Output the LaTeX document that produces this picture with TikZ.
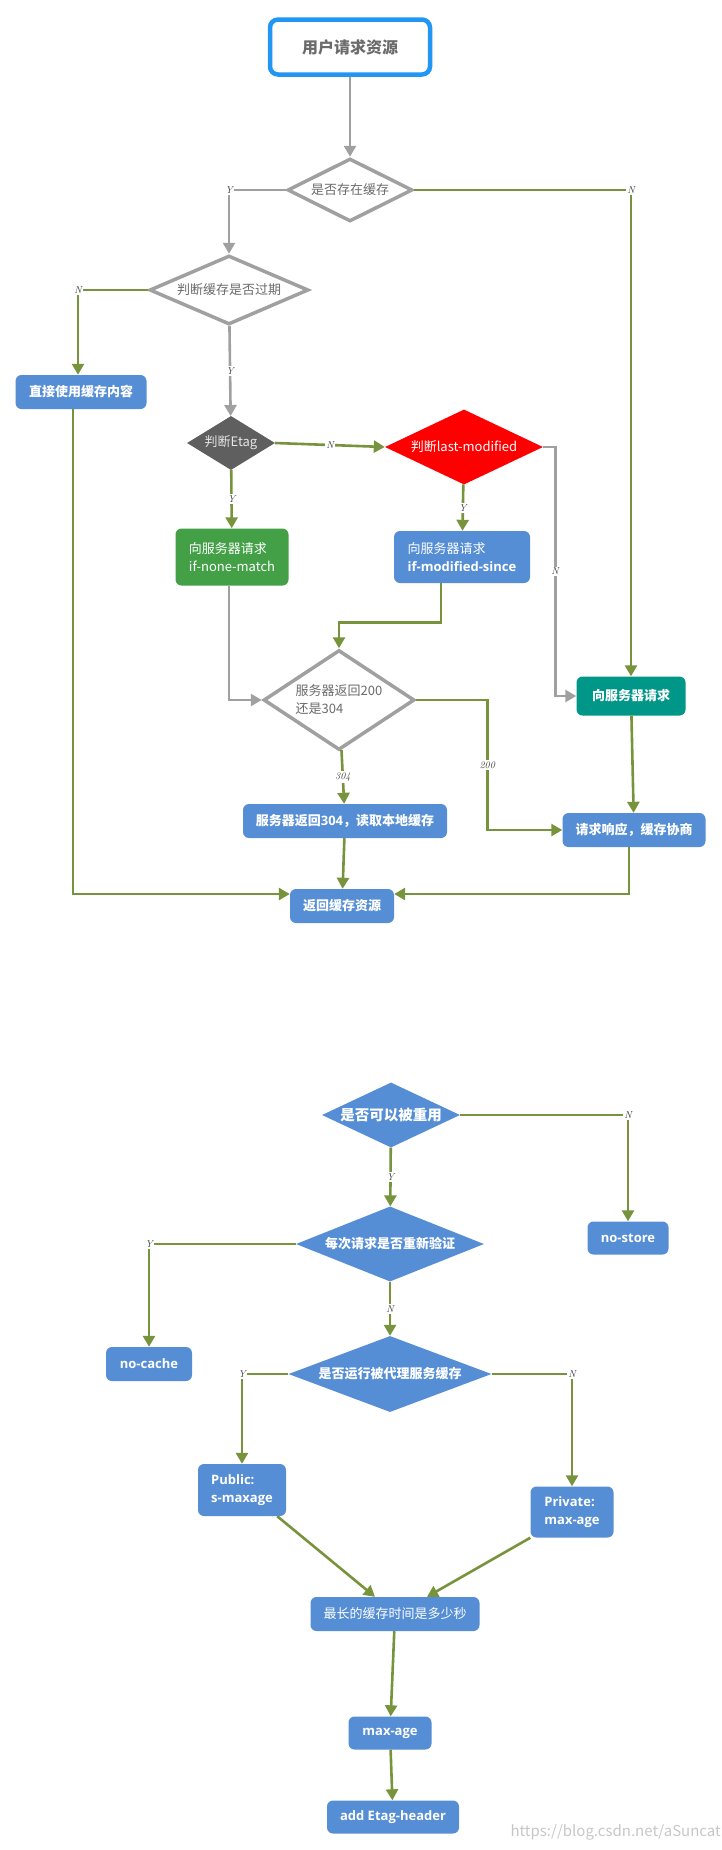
\documentclass[tikz,border=0pt]{standalone}
\usepackage{fontspec}
\usepackage{tikz}
\usetikzlibrary{shapes.geometric,arrows.meta}
\setmainfont{Noto Sans CJK SC}
\newfontfamily\opensans{Open Sans}
\newfontfamily\lmserif{Latin Modern Roman}
\newcommand{\lat}[1]{{\opensans\bfseries #1}}
\definecolor{flowgreen}{HTML}{77933C}
\definecolor{flowgray}{HTML}{A0A0A0}
\definecolor{boxblue}{HTML}{558ED5}
\definecolor{startblue}{HTML}{2196F3}
\definecolor{boxgreen}{HTML}{43A047}
\definecolor{boxteal}{HTML}{009688}
\definecolor{darkdiam}{HTML}{5F5F5F}
\definecolor{txtgray}{HTML}{6B6B6B}

\begin{document}
\begin{tikzpicture}[x=1pt, y=-1pt,
	every node/.style = {inner sep=0pt, align=center,
		font=\fontsize{13}{18}\selectfont},
	sz/.style 2 args = {minimum width=#1pt, minimum height=#2pt},
	bluebox/.style = {rectangle, rounded corners=6pt, fill=boxblue, text=white,
		font=\fontsize{13}{18}\selectfont\bfseries},
	graydiam/.style = {diamond, aspect=2.5, draw=flowgray, line width=3.5pt,
		fill=white, text=txtgray},
	bluediam/.style = {diamond, aspect=2.5, fill=boxblue, text=white,
		font=\fontsize{13}{18}\selectfont\bfseries},
	flow/.style = {draw=flowgreen, line width=2.6pt,
		-{Triangle[length=11pt,width=12pt]}},
	flowg/.style = {flow, draw=flowgray},
	yn/.style = {fill=white, inner sep=1.5pt, text=black!75,
		font=\fontsize{10}{10}\selectfont\lmserif\itshape}]
	\useasboundingbox (0,0) rectangle (722,1850);

	% cache lookup
	\node[draw=startblue, line width=4.5pt, rounded corners=8pt, fill=white,
		sz={160}{55}, text=txtgray, font=\fontsize{16}{18}\selectfont\bfseries]
		(start) at (350,47) {用户请求资源};
	\node[graydiam, sz={125}{63}] (d1) at (350,190) {是否存在缓存};
	\node[graydiam, sz={159}{69}] (d2) at (229,290) {判断缓存是否过期};
	\node[bluebox, sz={131}{34}] (box1) at (81,392) {直接使用缓存内容};
	\node[diamond, aspect=1.7, fill=darkdiam, text=white!90!black, sz={88}{54}]
		(d3) at (231,443) {判断Etag};
	\node[diamond, aspect=2.5, fill=red, text=white, sz={158}{75}]
		(d4) at (464,447) {判断last-modified};
	\node[rectangle, rounded corners=6pt, fill=boxgreen, text=white, align=left,
		sz={113}{57}] (gbox) at (232,557) {向服务器请求\\if-none-match};
	\node[bluebox, align=left, sz={136}{52}] (box3) at (462,557)
		{\mdseries 向服务器请求\\\lat{if-modified-since}};
	\node[bluebox, fill=boxteal, sz={109}{39}] (teal) at (631,696) {向服务器请求};
	\node[graydiam, aspect=1.5, align=left, sz={151}{100}] (d5) at (339,700)
		{服务器返回200\\还是304};
	\node[bluebox, sz={204}{34}] (b304) at (345,821) {服务器返回\lat{304}，读取本地缓存};
	\node[bluebox, sz={143}{34}] (resp) at (634,830) {请求响应，缓存协商};
	\node[bluebox, sz={104}{34}] (ret) at (342,906) {返回缓存资源};

	\draw[flowg] (start) -- (d1);
	\draw[flowg] (d1.west) -| node[yn, midway] {Y} (d2.north);
	\draw[flow] (d1.east) -| node[yn, midway] {N} (teal.north);
	\draw[flow] (d2.west) -| node[yn, midway] {N} ([xshift=-3pt]box1.north);
	\draw[flowg] (d2) -- node[yn, midway] {Y} (d3);
	\draw[flow] (d3.east) -- node[yn, midway] {N} (d4.west);
	\draw[flow] (d3) -- node[yn, midway] {Y} (gbox);
	\draw[flow] (d4) -- node[yn, midway] {Y} (box3);
	\draw[flowg] (d4.east) -- ++(12,0) |- node[yn, pos=0.25] {N} (teal.west);
	\draw[flowg] ([xshift=-3pt]gbox.south) |- (d5.west);
	\draw[flow] ([xshift=-21pt]box3.south) -- ++(0,39) -| (d5.north);
	\draw[flow] (d5.east) -- ++(71,0) |- node[yn, pos=0.25] {200} (resp.west);
	\draw[flow] (d5) -- node[yn, midway] {304} (b304);
	\draw[flow] (teal) -- (resp);
	\draw[flow] (b304) -- (ret);
	\draw[flow] ([xshift=-5pt]resp.south) |- ([yshift=12pt]ret.east);
	\draw[flow] ([xshift=-8pt]box1.south) |- ([yshift=12pt]ret.west);

	% cache-control
	\node[bluediam, sz={138}{65}, font=\fontsize{14.5}{18}\selectfont\bfseries]
		(d6) at (391,1115) {是否可以被重用};
	\node[bluebox, sz={81}{33}] (nostore) at (628,1238) {\lat{no-store}};
	\node[bluediam, sz={188}{75}] (d7) at (390,1244) {每次请求是否重新验证};
	\node[bluebox, sz={86}{34}] (nocache) at (149,1364) {\lat{no-cache}};
	\node[bluediam, aspect=2.7, sz={203}{76}] (d8) at (390,1374) {是否运行被代理服务缓存};
	\node[bluebox, align=left, sz={88}{52}] (public) at (242,1490)
		{\lat{Public:}\\\lat{s-maxage}};
	\node[bluebox, align=left, sz={83}{51}] (private) at (572,1512)
		{\lat{Private:}\\\lat{max-age}};
	\node[bluebox, font=\fontsize{13}{18}\selectfont, sz={169}{34}]
		(longest) at (395,1614) {最长的缓存时间是多少秒};
	\node[bluebox, sz={83}{33}] (maxage) at (390,1733) {\lat{max-age}};
	\node[bluebox, sz={132}{33}] (etag) at (393,1817) {\lat{add Etag-header}};
	\node[anchor=east, text=black!22, font=\fontsize{15}{15}\selectfont]
		(wm) at (721,1832) {https://blog.csdn.net/aSuncat};

	\draw[flow] (d6.east) -| node[yn, midway] {N} (nostore.north);
	\draw[flow] (d6) -- node[yn, midway] {Y} (d7);
	\draw[flow] (d7.west) -| node[yn, midway] {Y} (nocache.north);
	\draw[flow] (d7) -- node[yn, midway] {N} (d8);
	\draw[flow] (d8.west) -| node[yn, midway] {Y} (public.north);
	\draw[flow] (d8.east) -| node[yn, midway] {N} (private.north);
	\draw[flow] ([xshift=-9pt]public.south east) -- ([xshift=-20pt]longest.north);
	\draw[flow] (private.south west) -- ([xshift=32pt]longest.north);
	\draw[flow] (longest) -- (maxage);
	\draw[flow] (maxage) -- (etag);
\end{tikzpicture}
\end{document}
